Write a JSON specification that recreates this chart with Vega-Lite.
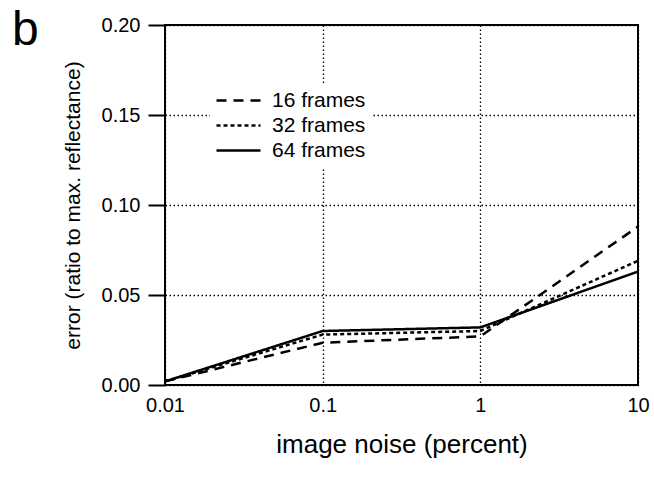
{
  "$schema": "https://vega.github.io/schema/vega-lite/v6.json",
  "width": 473,
  "height": 360,
  "autosize": {"type": "none"},
  "padding": {"left": 165, "top": 25, "right": 16, "bottom": 92},
  "background": "white",
  "title": {
    "text": "b",
    "anchor": "start",
    "frame": "group",
    "orient": "top",
    "font": "Liberation Sans",
    "fontSize": 48,
    "fontWeight": "normal",
    "color": "black",
    "baseline": "alphabetic",
    "offset": 0,
    "dx": -153,
    "dy": 78
  },
  "config": {
    "view": {"stroke": "black", "strokeWidth": 2},
    "font": "Liberation Sans"
  },
  "data": {
    "values": [
      {"noise": 0.01, "error": 0.002, "series": "16 frames"},
      {"noise": 0.1, "error": 0.0235, "series": "16 frames"},
      {"noise": 1, "error": 0.027, "series": "16 frames"},
      {"noise": 10, "error": 0.088, "series": "16 frames"},
      {"noise": 0.01, "error": 0.002, "series": "32 frames"},
      {"noise": 0.1, "error": 0.028, "series": "32 frames"},
      {"noise": 1, "error": 0.030, "series": "32 frames"},
      {"noise": 10, "error": 0.069, "series": "32 frames"},
      {"noise": 0.01, "error": 0.002, "series": "64 frames"},
      {"noise": 0.1, "error": 0.030, "series": "64 frames"},
      {"noise": 1, "error": 0.032, "series": "64 frames"},
      {"noise": 10, "error": 0.063, "series": "64 frames"}
    ]
  },
  "mark": {"type": "line", "color": "black", "strokeWidth": 2.5},
  "encoding": {
    "x": {
      "field": "noise",
      "type": "quantitative",
      "scale": {"type": "log", "domain": [0.01, 10], "nice": false},
      "axis": {
        "title": "image noise (percent)",
        "values": [0.01, 0.1, 1, 10],
        "labelExpr": "datum.value >= 1 ? format(datum.value, 'd') : format(datum.value, '.2~f')",
        "ticks": false,
        "domain": false,
        "labelFont": "Liberation Sans",
        "labelFontSize": 20,
        "labelColor": "black",
        "labelPadding": 10,
        "labelFlush": false,
        "labelOverlap": false,
        "titleFont": "Liberation Sans",
        "titleFontSize": 26,
        "titleFontWeight": "normal",
        "titleColor": "black",
        "titlePadding": 16,
        "grid": true,
        "gridColor": "black",
        "gridDash": [1.5, 2.5],
        "gridWidth": 1.3,
        "gridOpacity": 1
      }
    },
    "y": {
      "field": "error",
      "type": "quantitative",
      "scale": {"domain": [0, 0.2], "nice": false},
      "axis": {
        "title": "error (ratio to max. reflectance)",
        "values": [0, 0.05, 0.1, 0.15, 0.2],
        "format": ".2f",
        "domain": false,
        "ticks": true,
        "tickSize": 17,
        "tickWidth": 2,
        "tickColor": "black",
        "labelFont": "Liberation Sans",
        "labelFontSize": 20,
        "labelColor": "black",
        "labelPadding": 8,
        "titleFont": "Liberation Sans",
        "titleFontSize": 21,
        "titleFontWeight": "normal",
        "titleColor": "black",
        "titlePadding": 18,
        "grid": true,
        "gridColor": "black",
        "gridDash": [1.5, 2.5],
        "gridWidth": 1.3,
        "gridOpacity": 1
      }
    },
    "strokeDash": {
      "field": "series",
      "type": "nominal",
      "scale": {
        "domain": ["16 frames", "32 frames", "64 frames"],
        "range": [[10, 7], [4, 3], [1, 0]]
      },
      "legend": {
        "title": null,
        "orient": "none",
        "legendX": 45,
        "legendY": 58,
        "fillColor": "white",
        "padding": 5,
        "strokeColor": null,
        "symbolType": "stroke",
        "symbolSize": 1936,
        "symbolStrokeColor": "black",
        "symbolStrokeWidth": 2.5,
        "clipHeight": 25,
        "rowPadding": 0,
        "labelFont": "Liberation Sans",
        "labelFontSize": 21,
        "labelColor": "black",
        "labelOffset": 10
      }
    }
  }
}
